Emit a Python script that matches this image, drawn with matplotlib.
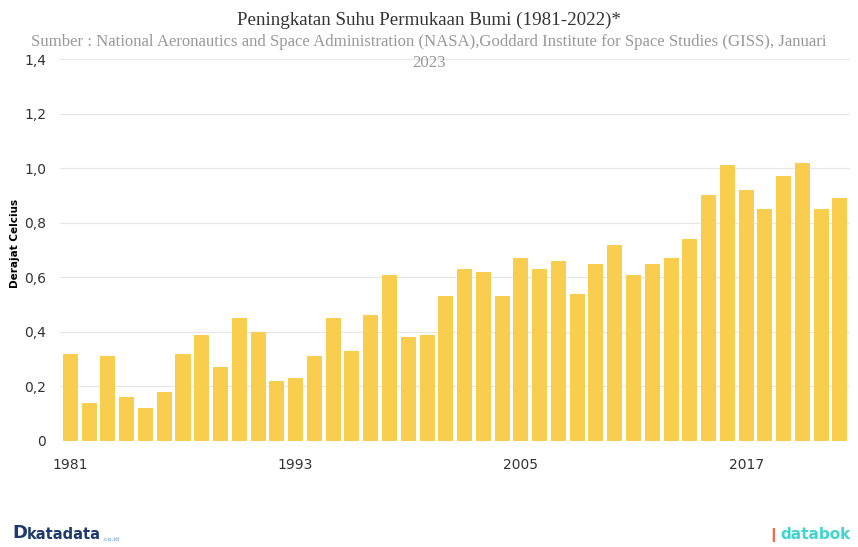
import matplotlib
matplotlib.use('Agg')
import matplotlib.pyplot as plt
import numpy as np

years = list(range(1981, 2023))
anomaly = [0.32, 0.14, 0.31, 0.16, 0.12, 0.18, 0.32, 0.39, 0.27, 0.45,
           0.40, 0.22, 0.23, 0.31, 0.45, 0.33, 0.46, 0.61, 0.38, 0.39,
           0.53, 0.63, 0.62, 0.53, 0.67, 0.63, 0.66, 0.54, 0.65, 0.72,
           0.61, 0.65, 0.67, 0.74, 0.90, 1.01, 0.92, 0.85, 0.97, 1.02,
           0.85, 0.89]
tick_years = [1981, 1993, 2005, 2017]
y_ticks = [0, 0.2, 0.4, 0.6, 0.8, 1.0, 1.2, 1.4]
y_labels = ['0', '0,2', '0,4', '0,6', '0,8', '1,0', '1,2', '1,4']

title = 'Peningkatan Suhu Permukaan Bumi (1981-2022)*'
subtitle_1 = ('Sumber : National Aeronautics and Space Administration (NASA),'
              'Goddard Institute for Space Studies (GISS), Januari')
subtitle_2 = '2023'

fig = plt.figure(figsize=(8.58, 5.47), dpi=100)
ax = fig.add_axes([0.070, 0.194, 0.921, 0.698])

x = np.arange(len(years))
ax.bar(x, anomaly, width=0.8, color='#f9cd4e', zorder=2)

ax.set_xlim(-0.55, len(years) - 0.45)
ax.set_ylim(0, 1.4)
ax.set_yticks(y_ticks)
ax.set_yticklabels(y_labels)
ax.set_xticks([years.index(y) for y in tick_years])
ax.set_xticklabels([str(y) for y in tick_years])
ax.grid(axis='y', color='#e6e6e6', linewidth=0.8, zorder=0)
for s in ax.spines.values():
    s.set_visible(False)
ax.tick_params(axis='both', length=0, labelsize=10, colors='#333333')
ax.tick_params(axis='x', pad=12)
ax.tick_params(axis='y', pad=10)

fig.text(0.017, 0.555, 'Derajat Celcius', rotation=90, ha='center', va='center',
         fontsize=7.5, fontweight='bold', color='#000000')

fig.text(0.5, 0.962, title, ha='center', va='center', fontsize=13.7,
         family='Liberation Serif', color='#333333')
fig.text(0.5, 0.923, subtitle_1, ha='center', va='center', fontsize=12.1,
         family='Liberation Serif', color='#999999')
fig.text(0.5, 0.885, subtitle_2, ha='center', va='center', fontsize=12.1,
         family='Liberation Serif', color='#999999')

# logos as text
fig.text(0.014, 0.010, 'D', fontsize=13, fontweight='bold', color='#1f3a6e', va='bottom')
fig.text(0.031, 0.010, 'katadata', fontsize=10.5, fontweight='bold', color='#1f3a6e', va='bottom')
fig.text(0.119, 0.010, '.co.id', fontsize=4.5, color='#4a90d9', va='bottom')
fig.text(0.908, 0.010, '\u2759', fontsize=10, color='#f26b4f', va='bottom', ha='right')
fig.text(0.910, 0.010, 'databok', fontsize=11, fontweight='bold', color='#3fd6d0', va='bottom')

fig.savefig('out.png', dpi=100)
